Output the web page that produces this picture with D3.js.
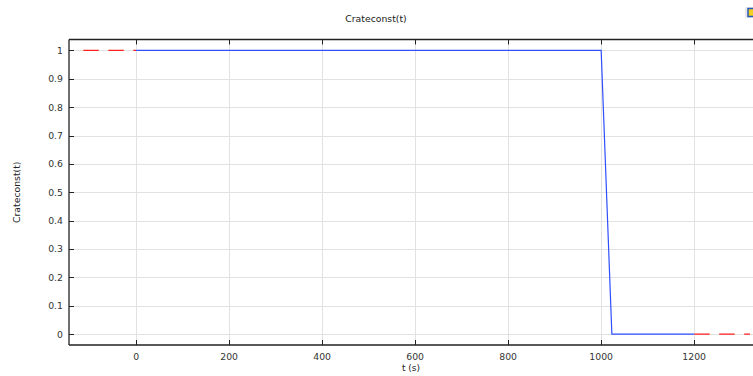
<!DOCTYPE html>
<html>
<head>
<meta charset="utf-8">
<script src="https://cdn.jsdelivr.net/npm/d3@7"></script>
<style>
  html, body { margin: 0; padding: 0; background: #fff; }
  svg { display: block; font-family: "DejaVu Sans", sans-serif; }
</style>
</head>
<body>
<svg id="chart" width="753" height="376"></svg>
<script>
// Rate constant vs time: full rate until 1000 s, linear ramp down to zero.
const tData = [0, 1000, 1023, 1200];
const cData = [1, 1, 0, 0];
// Extrapolated (constant) parts outside the defined interval
const tLeft = [-120, 0];
const cLeft = [1, 1];
const tRight = [1200, 1320];
const cRight = [0, 0];

const xTicks = [0, 200, 400, 600, 800, 1000, 1200];
const yTicks = [0, 0.1, 0.2, 0.3, 0.4, 0.5, 0.6, 0.7, 0.8, 0.9, 1];
const yTickLabels = ["0", "0.1", "0.2", "0.3", "0.4", "0.5", "0.6", "0.7", "0.8", "0.9", "1"];

const titleText = "Crateconst(t)";
const xLabelText = "t (s)";
const yLabelText = "Crateconst(t)";

const W = 753, H = 376;
const margin = { left: 69, right: 0, top: 39.5, bottom: 31 };
const x0 = margin.left, x1 = W - margin.right;
const y0 = margin.top, y1 = H - margin.bottom;

const x = d3.scaleLinear().domain([-144.3, 1326.5]).range([x0, x1]);
const y = d3.scaleLinear().domain([-0.0387, 1.0387]).range([y1, y0]);

const svg = d3.select("#chart");

// Grid
const grid = svg.append("g").attr("stroke", "#e2e2e2").attr("stroke-width", 1);
grid.selectAll("line.gx").data(xTicks).join("line")
  .attr("x1", d => Math.round(x(d)) + 0.5).attr("x2", d => Math.round(x(d)) + 0.5)
  .attr("y1", y0).attr("y2", y1);
grid.selectAll("line.gy").data(yTicks).join("line")
  .attr("y1", d => Math.round(y(d)) + 0.5).attr("y2", d => Math.round(y(d)) + 0.5)
  .attr("x1", x0).attr("x2", x1);

// Curves
const line = d3.line().x(d => x(d[0])).y(d => y(d[1]));
const zip = (a, b) => a.map((v, i) => [v, b[i]]);

svg.append("path").datum(zip(tLeft, cLeft)).attr("d", line)
  .attr("fill", "none").attr("stroke", "#ff2020").attr("stroke-width", 1.2)
  .attr("stroke-dasharray", "15.5,9.5").attr("stroke-dashoffset", -3);
svg.append("path").datum(zip(tRight, cRight)).attr("d", line)
  .attr("fill", "none").attr("stroke", "#ff2020").attr("stroke-width", 1.2)
  .attr("stroke-dasharray", "15.5,9.5");
svg.append("path").datum(zip(tData, cData)).attr("d", line)
  .attr("fill", "none").attr("stroke", "#2f4fff").attr("stroke-width", 1.2);

// Frame
const frame = svg.append("g").attr("stroke", "#222").attr("stroke-width", 1.3).attr("fill", "none");
frame.append("line").attr("x1", x0).attr("x2", x1).attr("y1", y0).attr("y2", y0);
frame.append("line").attr("x1", x0).attr("x2", x1).attr("y1", y1).attr("y2", y1);
frame.append("line").attr("x1", x0).attr("x2", x0).attr("y1", y0).attr("y2", y1);

// Inward ticks on top and bottom edges
const ticks = svg.append("g").attr("stroke", "#222").attr("stroke-width", 1);
ticks.selectAll("line.tb").data(xTicks).join("line")
  .attr("x1", d => Math.round(x(d)) + 0.5).attr("x2", d => Math.round(x(d)) + 0.5)
  .attr("y1", y1).attr("y2", y1 - 5);
ticks.selectAll("line.tt").data(xTicks).join("line")
  .attr("x1", d => Math.round(x(d)) + 0.5).attr("x2", d => Math.round(x(d)) + 0.5)
  .attr("y1", y0).attr("y2", y0 + 5);
ticks.selectAll("line.tl").data(yTicks).join("line")
  .attr("y1", d => Math.round(y(d)) + 0.5).attr("y2", d => Math.round(y(d)) + 0.5)
  .attr("x1", x0).attr("x2", x0 + 5);

// Tick labels
const lab = svg.append("g").attr("fill", "#333").attr("font-size", 9.3);
lab.selectAll("text.xl").data(xTicks).join("text")
  .attr("x", d => x(d)).attr("y", 359.5)
  .attr("text-anchor", "middle").text(d => d);
lab.selectAll("text.yl").data(yTicks).join("text")
  .attr("x", x0 - 6).attr("y", d => y(d) + 3.5)
  .attr("text-anchor", "end").text((d, i) => yTickLabels[i]);

// Titles
svg.append("text").attr("x", 376).attr("y", 22).attr("text-anchor", "middle")
  .attr("font-size", 9.3).attr("fill", "#222").text(titleText);
svg.append("text").attr("x", (x0 + x1) / 2).attr("y", 370.5).attr("text-anchor", "middle")
  .attr("font-size", 9).attr("fill", "#222").text(xLabelText);
svg.append("text").attr("transform", `translate(20,${(y0 + y1) / 2}) rotate(-90)`)
  .attr("text-anchor", "middle").attr("font-size", 9.3).attr("fill", "#222").text(yLabelText);

// Small toolbar icon at top-right corner
const icon = svg.append("g");
icon.append("rect").attr("x", 745).attr("y", 7).attr("width", 10).attr("height", 11)
  .attr("rx", 1.5).attr("fill", "#e8e8e8");
icon.append("rect").attr("x", 748).attr("y", 8.5).attr("width", 7).attr("height", 8)
  .attr("fill", "#f0d020").attr("stroke", "#2a5ab8").attr("stroke-width", 1.5);
</script>
</body>
</html>
